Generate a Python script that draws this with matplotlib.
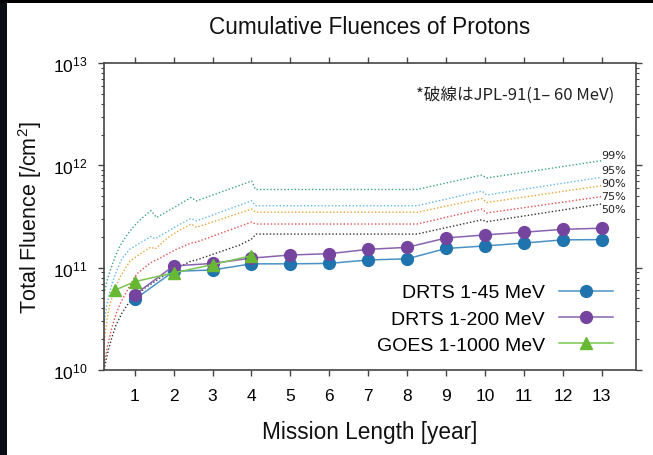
import matplotlib
matplotlib.use("Agg")
import matplotlib.pyplot as plt
from matplotlib.patches import Rectangle

plt.rcParams['font.family'] = ['Liberation Sans', 'DejaVu Sans']
plt.rcParams['mathtext.default'] = 'regular'

# ---------------- data ----------------
years = [1, 2, 3, 4, 5, 6, 7, 8, 9, 10, 11, 12, 13]
drts_45 = [4.9e10, 9.2e10, 9.5e10, 1.09e11, 1.09e11, 1.10e11, 1.19e11,
           1.22e11, 1.54e11, 1.63e11, 1.74e11, 1.87e11, 1.88e11]
drts_200 = [5.45e10, 1.04e11, 1.10e11, 1.24e11, 1.33e11, 1.37e11, 1.51e11,
            1.58e11, 1.95e11, 2.09e11, 2.22e11, 2.37e11, 2.43e11]
goes_x = [0.5, 1, 2, 3, 4]
goes_1000 = [6.05e10, 7.3e10, 8.9e10, 1.07e11, 1.31e11]

# JPL-91 model (1-60 MeV) confidence-level curves
jpl99_x = [0.211, 0.288, 0.365, 0.494, 0.622, 0.802, 0.982, 1.162, 1.419, 1.560,
           2.036, 2.447, 2.588, 4.006, 4.104, 8.254, 9.924, 10.040, 12.995]
jpl99_y = [5.53e10, 7.41e10, 9.27e10, 1.27e11, 1.63e11, 2.09e11, 2.55e11, 2.99e11,
           3.61e11, 3.09e11, 3.92e11, 4.85e11, 4.49e11, 7.03e11, 5.81e11, 5.81e11,
           8.05e11, 7.52e11, 1.11e12]

jpl95_x = [0.211, 0.288, 0.365, 0.494, 0.666, 0.879, 1.136, 1.419, 1.521,
           2.036, 2.447, 2.588, 4.006, 4.104, 8.254, 9.924, 10.040, 12.995]
jpl95_y = [2.82e10, 4.42e10, 5.92e10, 8.48e10, 1.22e11, 1.52e11, 1.74e11, 2.02e11,
           1.91e11, 2.50e11, 3.03e11, 2.86e11, 4.51e11, 4.03e11, 4.03e11, 5.61e11,
           5.13e11, 7.64e11]

jpl90_x = [0.211, 0.288, 0.365, 0.494, 0.622, 0.879, 1.136, 1.419, 1.521,
           1.907, 2.447, 2.588, 4.006, 4.104, 8.254, 9.924, 10.040, 12.995]
jpl90_y = [1.80e10, 3.15e10, 4.41e10, 6.19e10, 8.11e10, 1.16e11, 1.36e11, 1.59e11,
           1.52e11, 2.04e11, 2.67e11, 2.48e11, 3.74e11, 3.48e11, 3.48e11, 4.74e11,
           4.33e11, 6.32e11]

jpl75_x = [0.211, 0.314, 0.417, 0.519, 0.622, 0.828, 1.051, 1.393, 1.651,
           2.036, 2.447, 2.588, 4.006, 4.104, 8.254, 9.924, 10.040, 12.995]
jpl75_y = [1.15e10, 1.80e10, 2.63e10, 3.52e10, 4.41e10, 6.19e10, 8.67e10, 1.11e11,
           1.24e11, 1.49e11, 1.74e11, 1.78e11, 2.79e11, 2.67e11, 2.67e11, 3.74e11,
           3.42e11, 4.95e11]

jpl50_x = [0.211, 0.314, 0.417, 0.519, 0.674, 0.828, 1.000, 1.265, 1.651,
           1.985, 2.447, 2.588, 3.706, 4.006, 4.117, 8.254, 9.924, 10.040, 12.995]
jpl50_y = [1.00e10, 1.53e10, 2.10e10, 2.75e10, 3.61e10, 4.42e10, 5.17e10, 6.32e10,
           7.92e10, 9.48e10, 1.16e11, 1.19e11, 1.67e11, 1.91e11, 2.13e11, 2.13e11,
           2.94e11, 2.81e11, 4.19e11]

jpl_labels = ['99%', '95%', '90%', '75%', '50%']
x_ticks = [1, 2, 3, 4, 5, 6, 7, 8, 9, 10, 11, 12, 13]

# ---------------- figure ----------------
W, H = 653, 456
fig = plt.figure(figsize=(W / 100, H / 100), dpi=100)
fig.patch.set_facecolor('white')
fig.patches.append(Rectangle((0, 0), 7 / W, 1, transform=fig.transFigure,
                             facecolor='#0b0d14', edgecolor='none', zorder=-10))
fig.patches.append(Rectangle((0, 1 - 4 / H), 1, 4 / H, transform=fig.transFigure,
                             facecolor='#000000', edgecolor='none', zorder=-10))

ax = fig.add_axes([104 / W, 1 - 371 / H, 532 / W, 307 / H])
ax.set_yscale('log')
ax.set_xlim(0.211, 13.88)
ax.set_ylim(1e10, 1e13)

dot = (0, (1.0, 1.5))
jpl_sets = [(jpl99_x, jpl99_y, '#3aa57c'),
            (jpl95_x, jpl95_y, '#62b8e6'),
            (jpl90_x, jpl90_y, '#e8a53a'),
            (jpl75_x, jpl75_y, '#e0504e'),
            (jpl50_x, jpl50_y, '#333333')]
for (xs, ys, c), lab in zip(jpl_sets, jpl_labels):
    ax.plot(xs, ys, linestyle=dot, color=c, lw=1.0, zorder=2)

label_y = [1.27e12, 9.0e11, 6.72e11, 5.01e11, 3.74e11]
for lab, yv in zip(jpl_labels, label_y):
    ax.text(12.99, yv, lab, fontsize=8, color='#222222', ha='left', va='center',
            family=['DejaVu Sans'], zorder=5)

l1, = ax.plot(years, drts_45, '-o', color='#4a92c4', mfc='#1f74ae', mec='#1f74ae',
              ms=8.5, lw=1.1, label='DRTS 1-45 MeV', zorder=4)
l2, = ax.plot(years, drts_200, '-o', color='#8a63b0', mfc='#74449e', mec='#74449e',
              ms=8.5, lw=1.1, label='DRTS 1-200 MeV', zorder=5)
l3, = ax.plot(goes_x, goes_1000, '-^', color='#7cc552', mfc='#67b832', mec='#67b832',
              ms=8.5, lw=1.1, label='GOES 1-1000 MeV', zorder=6)

ax.set_xticks(x_ticks)
ax.tick_params(axis='both', which='both', direction='out', top=True, right=True,
               labeltop=False, labelright=False, color='#444444')
ax.tick_params(axis='both', which='major', length=4, width=1.0, labelsize=12.5)
ax.tick_params(axis='x', which='major', pad=9)
ax.tick_params(axis='y', which='major', pad=8)
ax.tick_params(axis='y', which='minor', length=2.2, width=0.8)
ax.tick_params(axis='x', which='minor', bottom=False, top=False)
for s in ax.spines.values():
    s.set_color('#444444')
    s.set_linewidth(1.2)

ax.text(0.959, 0.898, '*破線はJPL-91(1– 60 MeV)', transform=ax.transAxes,
        ha='right', va='center', fontsize=12, color='#222222',
        family=['Noto Sans CJK JP', 'DejaVu Sans'])

ax.legend(handles=[l1, l2, l3], loc='center right', bbox_to_anchor=(0.957, 0.166),
          markerfirst=False, frameon=False, fontsize=14, handlelength=2.8,
          handletextpad=0.7, labelspacing=0.45, borderpad=0, borderaxespad=0)

fig.text(370 / W, 1 - 28 / H, 'Cumulative Fluences of Protons', ha='center',
         va='center', fontsize=16.3, color='#111111')
fig.text(370 / W, 1 - 433 / H, 'Mission Length [year]', ha='center', va='center',
         fontsize=16.3, color='#111111')
fig.text(30 / W, 1 - 218 / H, 'Total Fluence [/cm$^2$]', ha='center', va='center',
         rotation=90, fontsize=15.5, color='#111111')

fig.savefig('out.png', dpi=100)
